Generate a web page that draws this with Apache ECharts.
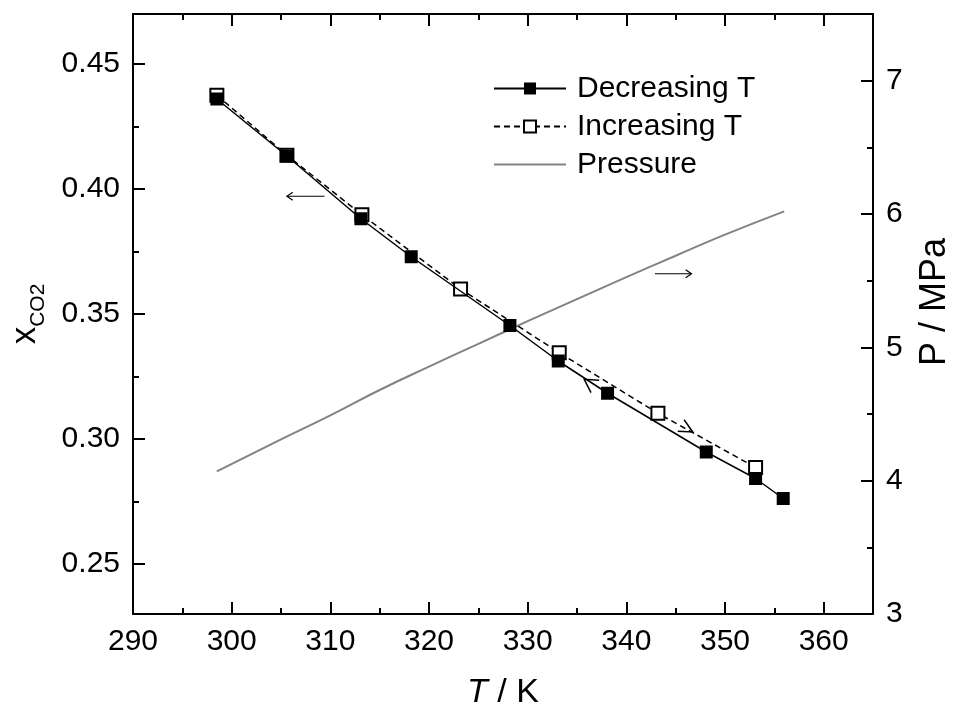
<!DOCTYPE html>
<html>
<head>
<meta charset="utf-8">
<script src="https://cdn.jsdelivr.net/npm/echarts@6/dist/echarts.min.js"></script>
<style>
html,body{margin:0;padding:0;background:#fff;}
#chart{width:961px;height:715px;}
</style>
</head>
<body>
<div id="chart"></div>
<script>
// ---- data ----
const decT = [298.5, 305.6, 313.1, 318.2, 328.2, 333.1, 338.1, 348.1, 353.1, 355.9];
const decX = [0.436, 0.4132, 0.3881, 0.3729, 0.3454, 0.3312, 0.3183, 0.2948, 0.2842, 0.2762];
const incT = [298.5, 305.6, 313.2, 323.2, 333.2, 343.2, 353.1];
const incX = [0.4375, 0.4135, 0.3897, 0.3600, 0.3345, 0.3103, 0.2886];
const presT = [298.5, 305, 310, 315, 320, 325, 330, 335, 340, 345, 350, 356];
const presP = [4.07, 4.31, 4.49, 4.68, 4.855, 5.026, 5.196, 5.362, 5.526, 5.687, 5.845, 6.02];

const xTicks = [290, 300, 310, 320, 330, 340, 350, 360];
const xMinorTicks = [295, 305, 315, 325, 335, 345, 355];
const yLeftTicks = [0.25, 0.30, 0.35, 0.40, 0.45];
const yLeftMinorTicks = [0.275, 0.325, 0.375, 0.425];
const yRightTicks = [3, 4, 5, 6, 7];
const yRightMinorTicks = [3.5, 4.5, 5.5, 6.5];

const seriesNames = ['Decreasing T', 'Increasing T', 'Pressure'];

// annotation arrows (data units)
const leftArrow = [[309.4, 0.3971], [305.6, 0.3971]];      // points to left axis (xCO2)
const rightArrow = [[342.9, 5.552], [346.6, 5.552]];       // points to right axis (P)
const decChevronTip = [335.73, 0.3239];
const incChevronTip = [346.73, 0.3028];

// ---- chart ----
const FONT = 'Liberation Sans, Arial, sans-serif';
const chart = echarts.init(document.getElementById('chart'), null, {renderer: 'canvas'});

const xMin = 290, xMax = 365, yLMin = 0.23, yLMax = 0.47, yRMin = 3, yRMax = 7.5;
const black = '#000';

function xAxisDef(pos, ticks, len, showLine, showLabel, extra) {
  return Object.assign({
    type: 'value', position: pos, min: xMin, max: xMax, gridIndex: 0,
    axisLine: {show: showLine, onZero: false, lineStyle: {color: black, width: 2}},
    axisTick: {show: true, inside: true, length: len, customValues: ticks, lineStyle: {color: black, width: 2}},
    axisLabel: showLabel ? {show: true, customValues: ticks, fontSize: 30, color: black, fontFamily: FONT, margin: 13} : {show: false},
    splitLine: {show: false}
  }, extra || {});
}
function yAxisDef(pos, min, max, ticks, len, showLine, showLabel, fmt, extra) {
  return Object.assign({
    type: 'value', position: pos, min: min, max: max, gridIndex: 0,
    axisLine: {show: showLine, onZero: false, lineStyle: {color: black, width: 2}},
    axisTick: {show: true, inside: true, length: len, customValues: ticks, lineStyle: {color: black, width: 2}},
    axisLabel: showLabel ? {show: true, customValues: ticks, fontSize: 30, color: black, fontFamily: FONT, margin: 13, formatter: fmt} : {show: false},
    splitLine: {show: false}
  }, extra || {});
}

const option = {
  animation: false,
  backgroundColor: '#fff',
  grid: {left: 131, right: 82, top: 14, bottom: 98, containLabel: false},
  legend: {
    data: [
      {name: seriesNames[0]},
      {name: seriesNames[1]},
      {name: seriesNames[2], itemStyle: {opacity: 0}}
    ],
    orient: 'vertical',
    left: 493, top: 73,
    itemWidth: 72, itemHeight: 15, itemGap: 7,
    padding: 0,
    textStyle: {fontSize: 30, color: black, fontFamily: FONT, lineHeight: 31, padding: [0, 0, 0, 6]}
  },
  xAxis: [
    xAxisDef('bottom', xTicks, 12, true, true, {
      name: '{i|T} / K', nameLocation: 'middle', nameGap: 62,
      nameTextStyle: {fontSize: 34, color: black, fontFamily: FONT,
        rich: {i: {fontStyle: 'italic', fontSize: 34, color: black, fontFamily: FONT}}}
    }),
    xAxisDef('bottom', xMinorTicks, 6, false, false),
    xAxisDef('top', xTicks, 12, true, false),
    xAxisDef('top', xMinorTicks, 6, false, false)
  ],
  yAxis: [
    yAxisDef('left', yLMin, yLMax, yLeftTicks, 12, true, true, v => v.toFixed(2), {
      name: '{x|x}{s|CO2}', nameLocation: 'middle', nameGap: 84, nameRotate: 90,
      nameTextStyle: {color: black, fontFamily: FONT,
        rich: {
          x: {fontSize: 35, color: black, fontFamily: FONT},
          s: {fontSize: 21, color: black, fontFamily: FONT, padding: [26, 0, 0, 0]}
        }}
    }),
    yAxisDef('left', yLMin, yLMax, yLeftMinorTicks, 6, false, false),
    yAxisDef('right', yRMin, yRMax, yRightTicks, 12, true, true, v => String(v), {
      name: 'P / MPa', nameLocation: 'middle', nameGap: 44, nameRotate: 90,
      nameTextStyle: {fontSize: 36, color: black, fontFamily: FONT, padding: [0, 0, 0, 24]}
    }),
    yAxisDef('right', yRMin, yRMax, yRightMinorTicks, 6, false, false)
  ],
  series: [
    {
      name: 'Pressure', type: 'line', xAxisIndex: 0, yAxisIndex: 2,
      data: presT.map((t, i) => [t, presP[i]]),
      smooth: true, showSymbol: false, symbol: 'none',
      lineStyle: {color: '#838383', width: 2},
      itemStyle: {color: '#838383'}, z: 2
    },
    {
      name: 'Increasing T', type: 'line', xAxisIndex: 0, yAxisIndex: 0,
      data: incT.map((t, i) => [t, incX[i]]),
      symbol: 'rect', symbolSize: 13, showSymbol: true,
      lineStyle: {color: black, width: 1.5, type: [6, 4]},
      itemStyle: {color: '#fff', borderColor: black, borderWidth: 2}, z: 3
    },
    {
      name: 'Decreasing T', type: 'line', xAxisIndex: 0, yAxisIndex: 0,
      data: decT.map((t, i) => [t, decX[i]]),
      symbol: 'rect', symbolSize: 13, showSymbol: true,
      lineStyle: {color: black, width: 1.5},
      itemStyle: {color: black, borderColor: black, borderWidth: 0}, z: 4
    }
  ]
};
chart.setOption(option);

// ---- annotation arrows computed through the library's scales ----
function px(axisY, pt) {
  return chart.convertToPixel(axisY === 0 ? {xAxisIndex: 0, yAxisIndex: 0} : {xAxisIndex: 0, yAxisIndex: 2}, pt);
}
function chevron(tip, ang, len, half) {
  const a1 = ang + Math.PI - half, a2 = ang + Math.PI + half;
  return [[tip[0] + len * Math.cos(a1), tip[1] + len * Math.sin(a1)], tip,
          [tip[0] + len * Math.cos(a2), tip[1] + len * Math.sin(a2)]];
}
const g = [];
function arrowLine(p0, p1) {
  g.push({type: 'polyline', shape: {points: [p0, p1]}, style: {stroke: black, lineWidth: 1.2, fill: null}, z: 10});
  const ang = Math.atan2(p1[1] - p0[1], p1[0] - p0[0]);
  g.push({type: 'polyline', shape: {points: chevron(p1, ang, 7, 0.6)}, style: {stroke: black, lineWidth: 1.2, fill: null}, z: 10});
}
arrowLine(px(0, leftArrow[0]), px(0, leftArrow[1]));
arrowLine(px(2, rightArrow[0]), px(2, rightArrow[1]));
// chevrons on curves
(function () {
  const a = px(0, [decT[6], decX[6]]), b = px(0, [decT[5], decX[5]]);
  const ang = Math.atan2(b[1] - a[1], b[0] - a[0]);
  g.push({type: 'polyline', shape: {points: chevron(px(0, decChevronTip), ang, 15, 0.52)}, style: {stroke: black, lineWidth: 1.5, fill: null}, z: 10});
  const c = px(0, [incT[5], incX[5]]), d = px(0, [incT[6], incX[6]]);
  const ang2 = Math.atan2(d[1] - c[1], d[0] - c[0]);
  g.push({type: 'polyline', shape: {points: chevron(px(0, incChevronTip), ang2, 15, 0.45)}, style: {stroke: black, lineWidth: 1.5, fill: null}, z: 10});
})();
chart.setOption({graphic: g});
</script>
</body>
</html>
